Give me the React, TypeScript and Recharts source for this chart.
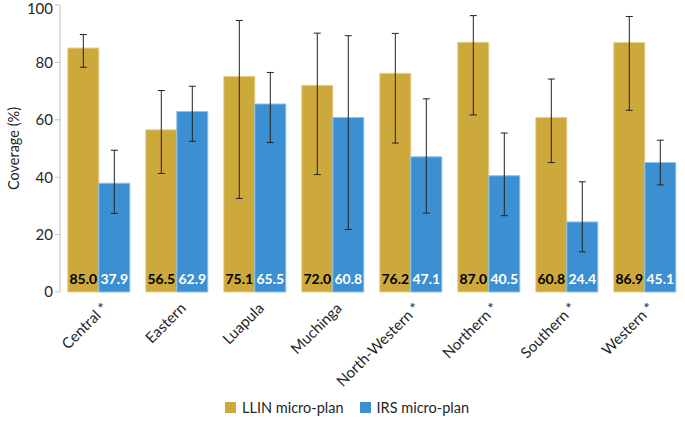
import {
    BarChart,
    Bar,
    XAxis,
    YAxis,
    ErrorBar,
    LabelList,
    Legend
} from "recharts";

const categories = ["Central *", "Eastern", "Luapula", "Muchinga", "North-Western *", "Northern *", "Southern *", "Western *"];
const llin = [85.0, 56.5, 75.1, 72.0, 76.2, 87.0, 60.8, 86.9];
const irs = [37.9, 62.9, 65.5, 60.8, 47.1, 40.5, 24.4, 45.1];
// confidence interval ends
const llinLow = [78.3, 41.3, 32.6, 40.9, 51.9, 61.7, 45.1, 63.3];
const llinHigh = [89.7, 70.2, 94.6, 90.2, 90.1, 96.3, 74.2, 96.0];
const irsLow = [27.4, 52.5, 52.1, 21.8, 27.5, 26.6, 14.0, 37.3];
const irsHigh = [49.4, 71.7, 76.5, 89.3, 67.3, 55.4, 38.4, 52.9];
const yTicks = [0, 20, 40, 60, 80, 100];

const GOLD = "#CDA83A";
const BLUE = "#3C8FD0";
const FONT = "Lato, 'Open Sans', sans-serif";

const data = categories.map((name, i) => ({
    name,
    llin: llin[i],
    irs: irs[i],
    llinErr: [llin[i] - llinLow[i], llinHigh[i] - llin[i]],
    irsErr: [irs[i] - irsLow[i], irsHigh[i] - irs[i]]
}));

// boundaries between categories, where the axis tick marks sit
const edgeTicks = Array.from({ length: categories.length + 1 }, (_, i) => i);

const CategoryTick = ({ x, y, payload }: any) => (
    <g transform={`translate(${x},${y})`}>
        <text x={0.5} y={13.5} textAnchor="end" transform="rotate(-45)" fontSize={15} fill="#262626" fontFamily={FONT}>
            {payload.value}
        </text>
    </g>
);

const valueLabel = (color: string) => (props: any) => {
    const { x, y, width, height, value } = props;
    return (
        <text
            x={x + width / 2}
            y={y + height - 8}
            textAnchor="middle"
            fontSize={14}
            fontWeight="bold"
            fill={color}
            fontFamily={FONT}
        >
            {Number(value).toFixed(1)}
        </text>
    );
};

const LegendBox = () => (
    <div style={{ display: "flex", justifyContent: "center", alignItems: "center", height: 30, fontFamily: FONT, fontSize: 14.5, color: "#262626", paddingLeft: 10 }}>
        <span style={{ width: 11, height: 11, background: GOLD, display: "inline-block", marginRight: 6 }} />
        <span style={{ marginRight: 16 }}>LLIN micro-plan</span>
        <span style={{ width: 11, height: 11, background: BLUE, display: "inline-block", marginRight: 6 }} />
        <span>IRS micro-plan</span>
    </div>
);

export default function App() {
    return (
        <div style={{ position: "absolute", left: 0, top: 0, background: "#fff" }}>
            <BarChart
                width={685}
                height={422}
                data={data}
                margin={{ top: 5, right: 1, left: 0, bottom: 0 }}
                barCategoryGap="10%"
                barGap={0}
            >
                <XAxis
                    xAxisId="edges"
                    type="number"
                    domain={[0, categories.length]}
                    ticks={edgeTicks}
                    tick={false}
                    height={0}
                    stroke="#bfbfbf"
                    tickSize={5}
                />
                <XAxis
                    dataKey="name"
                    axisLine={false}
                    tickLine={false}
                    interval={0}
                    height={100}
                    tick={<CategoryTick />}
                />
                <YAxis
                    domain={[0, 100]}
                    ticks={yTicks}
                    width={60}
                    stroke="#bfbfbf"
                    tickSize={5}
                    tick={{ fill: "#262626", fontSize: 15, fontFamily: FONT }}
                    label={({ viewBox }: any) => {
                        const cy = viewBox.y + viewBox.height / 2;
                        return (
                            <text
                                x={13}
                                y={cy}
                                transform={`rotate(-90, 13, ${cy})`}
                                textAnchor="middle"
                                dominantBaseline="central"
                                fontSize={14.5}
                                fill="#262626"
                                fontFamily={FONT}
                            >
                                Coverage (%)
                            </text>
                        );
                    }}
                />
                <Legend verticalAlign="bottom" content={<LegendBox />} />
                <Bar dataKey="llin" fill={GOLD} stroke="#E6CF86" strokeWidth={1} isAnimationActive={false}>
                    <ErrorBar dataKey="llinErr" direction="y" width={3.5} stroke="#222" strokeWidth={1} />
                    <LabelList dataKey="llin" content={valueLabel("#000")} />
                </Bar>
                <Bar dataKey="irs" fill={BLUE} stroke="#8FC0EA" strokeWidth={1} isAnimationActive={false}>
                    <ErrorBar dataKey="irsErr" direction="y" width={3.5} stroke="#222" strokeWidth={1} />
                    <LabelList dataKey="irs" content={valueLabel("#fff")} />
                </Bar>
            </BarChart>
        </div>
    );
}
